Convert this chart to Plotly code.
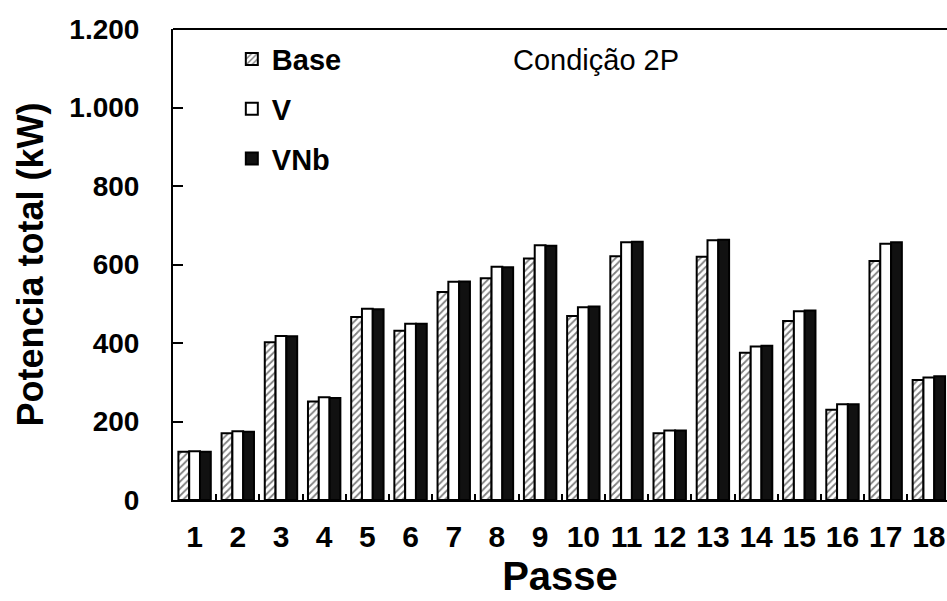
import plotly.graph_objects as go

# Potência total por passe de laminação, condição 2P
passes = [str(i) for i in range(1, 19)]
base = [123, 170, 402, 251, 466, 431, 530, 565, 615, 469, 621, 170, 620, 375, 456, 230, 609, 306]
v = [124, 175, 418, 262, 487, 449, 556, 594, 649, 491, 657, 177, 662, 391, 481, 244, 653, 312]
vnb = [123, 174, 417, 260, 486, 449, 557, 593, 648, 493, 658, 177, 663, 393, 483, 244, 657, 315]

FONT = "Arial, Liberation Sans, sans-serif"
BOLD = dict(family=FONT, color="black", weight="bold")

fig = go.Figure()
fig.add_trace(go.Bar(
    x=passes, y=base, name="Base", legendgroup="a",
    marker=dict(color="white", line=dict(color="black", width=2),
                pattern=dict(shape="/", fgcolor="black", bgcolor="white", size=5, solidity=0.35)),
))
fig.add_trace(go.Bar(
    x=passes, y=v, name="V", legendgroup="b",
    marker=dict(color="white", line=dict(color="black", width=2)),
))
fig.add_trace(go.Bar(
    x=passes, y=vnb, name="VNb", legendgroup="c",
    marker=dict(color="#111111", line=dict(color="black", width=2)),
))

fig.update_layout(
    width=947, height=601,
    margin=dict(l=173, r=0, t=29, b=101),
    plot_bgcolor="white", paper_bgcolor="white",
    barmode="group", bargap=0.25, bargroupgap=0,
    separators=",.",
    font=dict(family=FONT, color="black"),
    legend=dict(x=0.076, y=0.99, xanchor="left", yanchor="top",
                font=dict(size=29, **BOLD),
                traceorder="grouped", tracegroupgap=9,
                bgcolor="rgba(0,0,0,0)"),
    xaxis=dict(
        type="category", range=[-0.5, 17.42],
        showline=True, linecolor="black", linewidth=2,
        ticks="inside", tickson="boundaries", ticklen=6, tickwidth=2, tickcolor="black",
        tickangle=0,
        tickfont=dict(size=30, **BOLD), ticklabelstandoff=9,
        title=dict(text="Passe", font=dict(size=40, **BOLD), standoff=10),
        showgrid=False, zeroline=False,
    ),
    yaxis=dict(
        range=[0, 1200], dtick=200, tickformat=",d",
        showline=True, linecolor="black", linewidth=2,
        ticks="inside", ticklen=10, tickwidth=2, tickcolor="black",
        tickfont=dict(size=28, **BOLD), ticklabelstandoff=26,
        title=dict(text="Potencia total (kW)", font=dict(size=36, **BOLD), standoff=15),
        showgrid=False, zeroline=False,
    ),
)

# top frame line of the plotting area
fig.add_shape(type="line", xref="paper", yref="paper", x0=0, x1=1, y0=1, y1=1,
              line=dict(color="black", width=2))

fig.add_annotation(text="Condição 2P", xref="paper", yref="paper", x=0.547, y=0.935,
                   xanchor="center", yanchor="middle", showarrow=False,
                   font=dict(family=FONT, size=29, color="black"))

fig.write_html("out.html")
